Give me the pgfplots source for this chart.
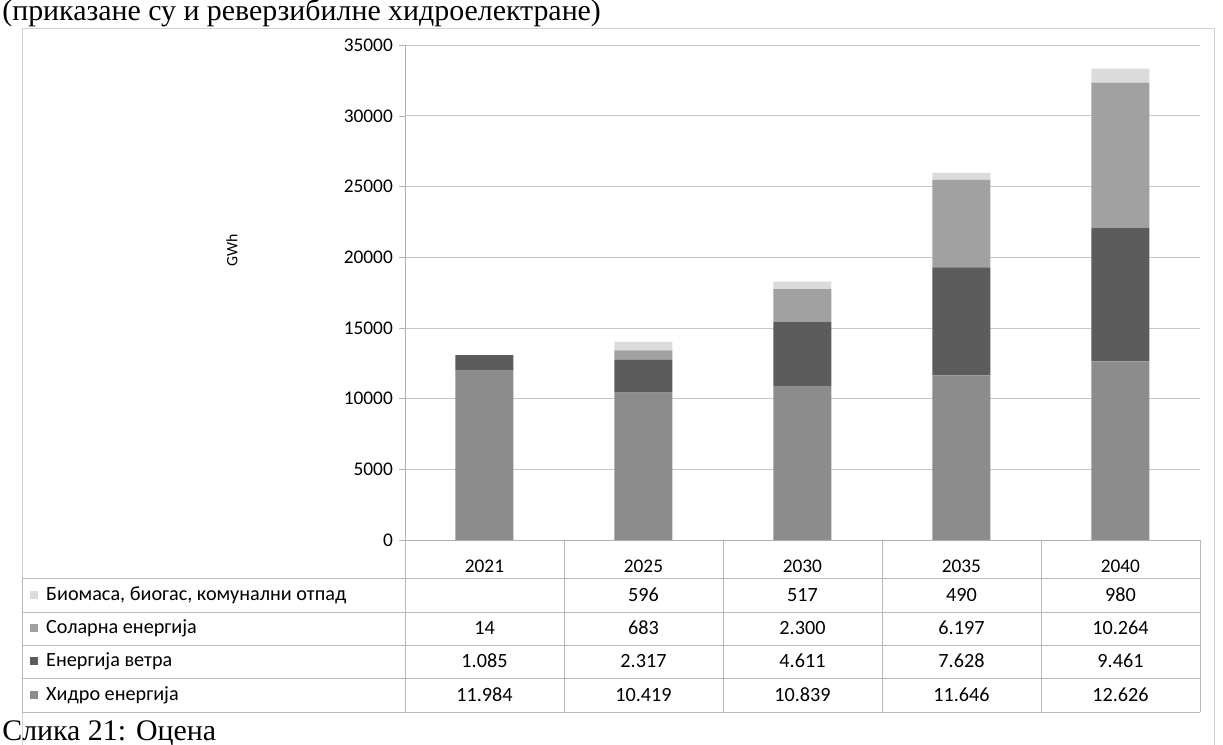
\documentclass[border=0pt]{standalone}
\usepackage{fontspec}
\setmainfont{Carlito}
\newfontfamily\captfont{Liberation Serif}
\usepackage{pgfplots}
\pgfplotsset{compat=1.18}
\usepackage{pgfplotstable}

\definecolor{hydro}{gray}{0.55}
\definecolor{wind}{gray}{0.36}
\definecolor{solar}{gray}{0.63}
\definecolor{bio}{gray}{0.86}

% GWh by source, stacked bottom to top
\pgfplotstableread{
yr hydro wind solar bio
0 11984 1085 14 0
1 10419 2317 683 596
2 10839 4611 2300 517
3 11646 7628 6197 490
4 12626 9461 10264 980
}\energy

\begin{document}
\begin{tikzpicture}[x=0.02cm,y=0.02cm]
\useasboundingbox (0,0) rectangle (1223,744);
\clip (0,0) rectangle (1223,744);
\fill[white] (0,0) rectangle (1223,744);
\draw[gray!35] (22,-10) rectangle (1214,716);
\coordinate (O) at (405,204);

\node[anchor=base west, font=\captfont\fontsize{17}{20}\selectfont, inner sep=0pt]
  at (2,723) {(приказане су и реверзибилне хидроелектране)};
\node[anchor=base west, font=\captfont\fontsize{17}{20}\selectfont, inner sep=0pt]
  at (2,4) {Слика 21: Оцена};
\node[rotate=90, font=\fontsize{9}{10}\selectfont] at (232,494) {GWh};

\begin{axis}[
    at={(O)}, anchor=south west,
    scale only axis, width=15.9cm, height=9.9cm,
    ybar stacked, bar width=1.16cm,
    xmin=-0.5, xmax=4.5, ymin=0, ymax=35000,
    xtick={0,...,4}, xticklabels={2021,2025,2030,2035,2040},
    major x tick style={draw=none},
    xticklabel style={anchor=center, yshift=-0.4cm},
    ytick={0,5000,...,35000},
    scaled y ticks=false,
    /pgf/number format/set thousands separator={},
    /pgf/number format/assume math mode=true,
    ticklabel style={font=\fontsize{11}{12}\selectfont},
    axis x line*=bottom, axis y line*=left,
    axis line style={gray!60, -},
    tick align=outside, major tick length=0.12cm,
    ytick style={gray!60},
    ymajorgrids, grid style={gray!45},
    clip=false,
]
\addplot[fill=hydro, draw=none] table[x=yr, y=hydro] {\energy};
\addplot[fill=wind, draw=none] table[x=yr, y=wind] {\energy};
\addplot[fill=solar, draw=none] table[x=yr, y=solar] {\energy};
\addplot[fill=bio, draw=none] table[x=yr, y=bio] {\energy};
\end{axis}

% data table under the chart
\begin{scope}[gray!55, line width=0.5pt]
\foreach \yy in {132,99,66,32} \draw (22,\yy) -- (1200,\yy);
\draw (22,166) -- (1200,166);
\draw (22,166) -- (22,32);
\foreach \xx in {405,564,723,882,1041,1200} \draw (\xx,204) -- (\xx,32);
\end{scope}

\begin{scope}[font=\fontsize{11.5}{13}\selectfont]
\fill[bio] (30,145) rectangle (38,153);
\node[anchor=west] at (40,149) {Биомаса, биогас, комунални отпад};
\fill[solar] (30,112) rectangle (38,120);
\node[anchor=west] at (40,116) {Соларна енергија};
\fill[wind] (30,79) rectangle (38,87);
\node[anchor=west] at (40,83) {Енергија ветра};
\fill[hydro] (30,45) rectangle (38,53);
\node[anchor=west] at (40,49) {Хидро енергија};
\foreach \c/\a/\b/\d [count=\i from 0] in {
  {}/14/1.085/11.984,
  596/683/2.317/10.419,
  517/2.300/4.611/10.839,
  490/6.197/7.628/11.646,
  980/10.264/9.461/12.626}{
  \pgfmathsetmacro{\cx}{484.5+159*\i}
  \node at (\cx,149) {\c};
  \node at (\cx,116) {\a};
  \node at (\cx,83) {\b};
  \node at (\cx,49) {\d};
}
\end{scope}
\end{tikzpicture}
\end{document}
